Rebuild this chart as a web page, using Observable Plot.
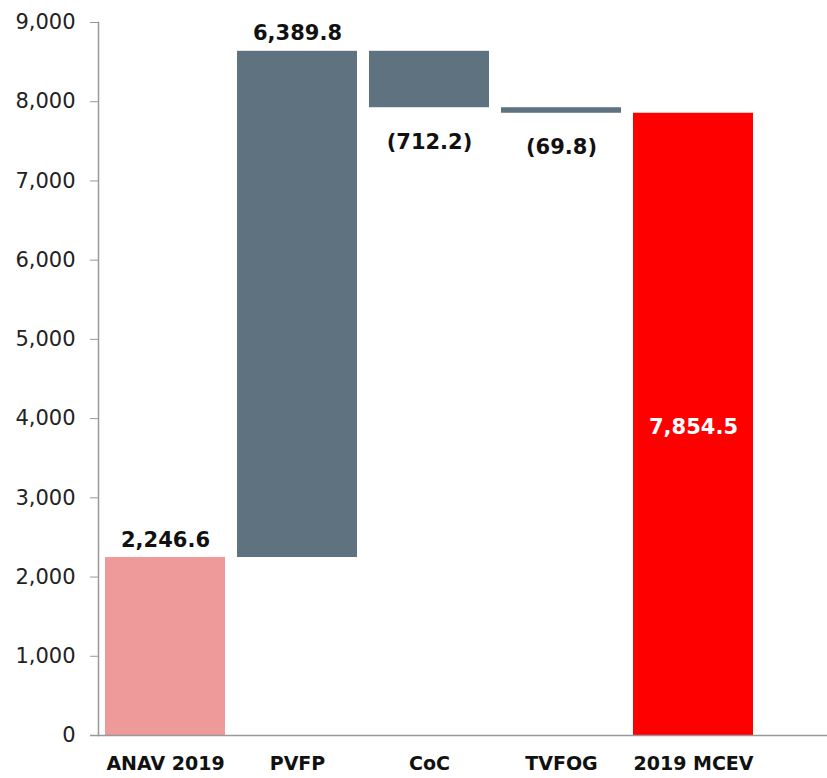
<!DOCTYPE html>
<html>
<head>
<meta charset="utf-8">
<script src="https://cdn.jsdelivr.net/npm/d3@7"></script>
<script src="https://cdn.jsdelivr.net/npm/@observablehq/plot@0.6"></script>
<style>
  html, body { margin: 0; padding: 0; background: #fff; }
  #chart svg { display: block; }
</style>
</head>
<body>
<div id="chart"></div>
<script>
const categories = ["ANAV 2019", "PVFP", "CoC", "TVFOG", "2019 MCEV"];
const deltas = [2246.6, 6389.8, -712.2, -69.8];
const total = 7854.5;
const valueLabels = ["2,246.6", "6,389.8", "(712.2)", "(69.8)", "7,854.5"];
const kinds = ["start", "step", "step", "step", "total"];
const yTicks = [0, 1000, 2000, 3000, 4000, 5000, 6000, 7000, 8000, 9000];

const colors = { start: "#ee9a9b", step: "#5f727f", total: "#ff0000" };

let run = 0;
const rows = categories.map((c, i) => {
  let y1, y2, v;
  if (kinds[i] === "total") { y1 = 0; y2 = total; v = total; }
  else { v = deltas[i]; y1 = run; y2 = run + v; run = y2; }
  return { cat: c, y1, y2, v, kind: kinds[i], label: valueLabels[i] };
});

const font = "Tahoma, 'DejaVu Sans', Verdana, sans-serif";

const plot = Plot.plot({
  width: 827,
  height: 778,
  marginLeft: 98,
  marginRight: 0,
  marginTop: 22,
  marginBottom: 43,
  style: { fontFamily: font, background: "#fff" },
  x: { domain: categories, range: [98, 760], paddingInner: 0.0909, paddingOuter: 0.053, round: false, label: null },
  y: { domain: [0, 9000], label: null },
  marks: [
    Plot.barY(rows, {
      x: "cat", y1: "y1", y2: "y2",
      fill: d => colors[d.kind]
    }),
    Plot.axisY({
      ticks: yTicks, tickFormat: d3.format(","), tickSize: 8, tickPadding: 15,
      fontSize: 21, fill: "#222", stroke: "#999", label: null
    }),
    Plot.frame({ anchor: "left", stroke: "#999", strokeWidth: 1.5 }),
    Plot.ruleY([0], { stroke: "#999", strokeWidth: 1.5, insetLeft: -8 }),
    Plot.axisX({
      tickSize: 0, tickPadding: 21, fontSize: 19, fontWeight: "bold", fill: "#111", label: null
    }),
    Plot.text(rows.filter(d => d.kind !== "total" && d.v >= 0), {
      x: "cat", y: "y2", text: "label", lineAnchor: "bottom", dy: -11,
      fontSize: 21, fontWeight: "bold", fill: "#111"
    }),
    Plot.text(rows.filter(d => d.v < 0), {
      x: "cat", y: "y2", text: "label", lineAnchor: "top", dy: 26,
      fontSize: 21, fontWeight: "bold", fill: "#111"
    }),
    Plot.text(rows.filter(d => d.kind === "total"), {
      x: "cat", y: d => d.v / 2, text: "label", dy: 3,
      fontSize: 21, fontWeight: "bold", fill: "#fff"
    })
  ]
});
document.getElementById("chart").appendChild(plot);
</script>
</body>
</html>
